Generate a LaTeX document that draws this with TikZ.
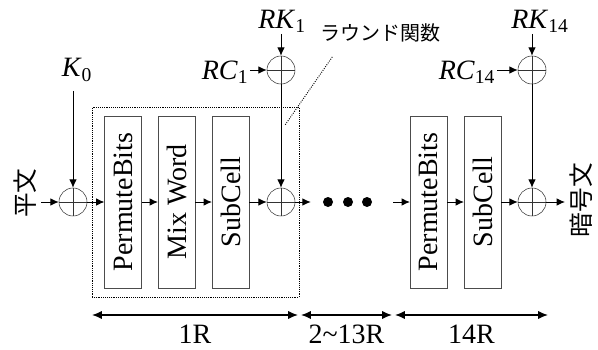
\documentclass[tikz,border=0pt]{standalone}
\usepackage{fontspec}
\setmainfont{Liberation Serif}
\newfontfamily\jpfont{Noto Sans CJK JP}
\usepackage{tikz}
\usetikzlibrary{arrows.meta, positioning, calc}

\newcommand{\keyname}[2]{\textit{#1}\textsubscript{#2}}

\begin{document}
\begin{tikzpicture}[
  x=0.75pt, y=-0.75pt,
  font=\fontsize{21}{25}\selectfont,
  layer/.style={
    rectangle,
    draw=black!70,
    rotate=90,
    inner sep=0pt,
    minimum width=129pt,
    minimum height=27.5pt
  },
  xor/.style={
    circle,
    draw=black!80,
    inner sep=0pt,
    minimum size=21pt,
    path picture={
      \draw[black!80] (path picture bounding box.north) -- (path picture bounding box.south)
        (path picture bounding box.west) -- (path picture bounding box.east);
    }
  },
  keylabel/.style={
    inner sep=1pt
  },
  dot/.style={
    circle,
    fill,
    inner sep=0pt,
    minimum size=7.5pt
  },
  jplabel/.style={
    font=\jpfont\fontsize{18.5}{20}\selectfont,
    rotate=90
  },
  roundbox/.style={
    rectangle,
    draw,
    densely dotted,
    minimum width=155.25pt,
    minimum height=142.5pt
  },
  arrow/.style={
    -{Latex[length=2.2mm, width=2mm]},
    line width=0.7pt
  },
  dim/.style={
    {Latex[length=2.6mm, width=2.2mm]}-{Latex[length=2.6mm, width=2.2mm]},
    line width=1.1pt
  },
  leader/.style={
    densely dotted,
    line width=0.7pt
  }
]
\useasboundingbox (0,0) rectangle (598,349);

% =========================================================
% Input and whitening key
% =========================================================
\node[jplabel] (pt) at (25,193) {平文};
\node[xor] (x0) at (73,202) {};
\node[keylabel] (k0) at (77,70) {\keyname{K}{0}};

\draw[arrow] (pt.south |- x0) -- (x0);
\draw[arrow, shorten <=6pt] (k0.south -| x0) -- (x0);

% =========================================================
% Round 1
% =========================================================
\node[roundbox] (rf) at (195.5,202) {};

\node[layer] (pb1) at (123,202) {PermuteBits};
\node[layer] (mw1) at (176.5,202) {Mix Word};
\node[layer] (sc1) at (230.5,202) {SubCell};
\node[xor] (x1) at (281,202) {};

\node[xor] (xk1) at (281,70) {};
\node[keylabel] (rk1) at (282,21) {\keyname{RK}{1}};
\node[keylabel] (rc1) at (225,72) {\keyname{RC}{1}};

\draw[arrow] (x0) -- (pb1);
\draw[arrow] (pb1) -- (mw1);
\draw[arrow] (mw1) -- (sc1);
\draw[arrow] (sc1) -- (x1);
\draw[arrow] (rk1.south -| xk1) -- (xk1);
\draw[arrow] (rc1.east |- xk1) -- (xk1);
\draw[arrow] (xk1) -- (x1);

% label of the round function
\node[font=\jpfont\fontsize{15}{17}\selectfont] (rflabel) at (380,33) {ラウンド関数};
\draw[leader] ([shift={(17,10)}]rflabel.south west) -- ([shift={(-14,18)}]rf.north east);

% =========================================================
% Rounds 2 to 13
% =========================================================
\node[dot] (d1) at (328,202) {};
\node[dot] (d2) at (348,202) {};
\node[dot] (d3) at (367,202) {};

\draw[arrow, shorten >=9pt] (x1) -- (d1);

% =========================================================
% Round 14
% =========================================================
\node[layer] (pb14) at (428.5,202) {PermuteBits};
\node[layer] (sc14) at (482.5,202) {SubCell};
\node[xor] (x14) at (532,202) {};

\node[xor] (xk14) at (532,70) {};
\node[keylabel] (rk14) at (540,21) {\keyname{RK}{14}};
\node[keylabel] (rc14) at (467,72) {\keyname{RC}{14}};

\node[jplabel] (ct) at (581,200) {暗号文};

\draw[arrow, shorten <=15.75pt] (d3) -- (pb14);
\draw[arrow] (pb14) -- (sc14);
\draw[arrow] (sc14) -- (x14);
\draw[arrow] (rk14.south -| xk14) -- (xk14);
\draw[arrow] (rc14.east |- xk14) -- (xk14);
\draw[arrow] (xk14) -- (x14);
\draw[arrow] (x14) -- (ct.north |- x14);

% =========================================================
% Round ranges
% =========================================================
\coordinate (m0) at (92,315);
\coordinate (m1) at (298,315);
\coordinate (m2) at (301,315);
\coordinate (m3) at (392,315);
\coordinate (m4) at (395,315);
\coordinate (m5) at (548,315);

\draw[dim] (m0) -- (m1) node[midway, below=3.5pt] {1R};
\draw[dim] (m2) -- (m3) node[midway, below=3.5pt] {2\textasciitilde 13R};
\draw[dim] (m4) -- (m5) node[midway, below=3.5pt] {14R};

\end{tikzpicture}
\end{document}
